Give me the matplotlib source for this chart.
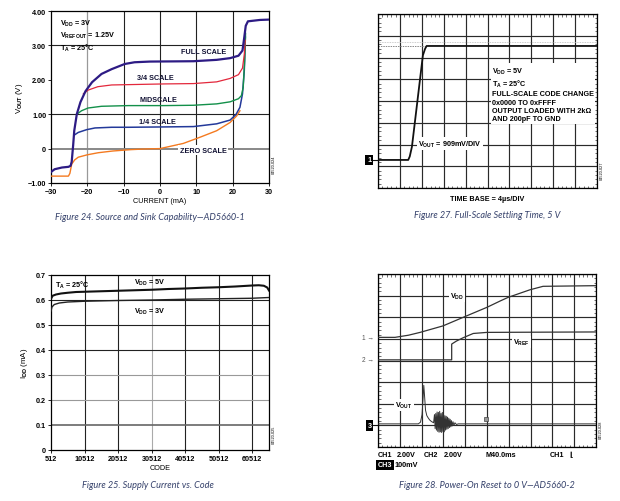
import numpy as np
import matplotlib
matplotlib.use("Agg")
import matplotlib.pyplot as plt

plt.rcParams['font.family'] = ['Liberation Sans', 'DejaVu Sans']
plt.rcParams['font.weight'] = 'bold'
plt.rcParams['mathtext.fontset'] = 'custom'
plt.rcParams['mathtext.rm'] = 'Liberation Sans:bold'
plt.rcParams['mathtext.it'] = 'Liberation Sans:bold'
plt.rcParams['mathtext.bf'] = 'Liberation Sans:bold'

# ---------------- Figure 24 data: source and sink capability ----------------
cur_fs = [-30, -29, -27, -25.2, -24.6, -24.3, -23.9, -23.6, -22.9, -21.9, -20.5, -18.7, -16.1,
          -13.3, -9.7, -7.0, -2.75, 9.2, 15.6, 19.3, 21.6, 22.7, 23.2, 23.6, 24.2, 27.5, 30]
v_fs = [-0.68, -0.60, -0.55, -0.53, -0.50, -0.38, 0.10, 0.52, 1.00, 1.35, 1.67, 1.93, 2.17,
        2.31, 2.46, 2.51, 2.53, 2.54, 2.58, 2.63, 2.70, 2.85, 3.24, 3.57, 3.70, 3.74, 3.75]

cur_34 = [-21.1, -19.8, -17.1, -13.3, 1.1, 9.2, 15.6, 19.3, 21.6, 22.7, 23.2, 23.45]
v_34 = [1.59, 1.70, 1.80, 1.85, 1.88, 1.89, 1.94, 2.04, 2.15, 2.34, 2.74, 3.15]

cur_mid = [-22.9, -21.6, -19.8, -16.1, -8.7, 1.1, 9.2, 15.6, 19.3, 21.6, 22.4, 22.9, 23.3, 23.55]
v_mid = [1.00, 1.10, 1.18, 1.23, 1.25, 1.25, 1.26, 1.30, 1.36, 1.45, 1.54, 1.78, 2.56, 3.35]

cur_q = [-23.5, -22.5, -20.2, -17.9, -13.3, -8.7, 1.1, 9.2, 15.6, 19.3, 20.9, 22.0, 22.7, 23.2, 23.5]
v_q = [0.40, 0.47, 0.55, 0.60, 0.62, 0.62, 0.63, 0.64, 0.72, 0.83, 0.99, 1.20, 1.59, 2.27, 3.24]

cur_zero = [-30, -25.2, -24.8, -24.3, -23.5, -22.5, -20.0, -17.0, -13.0, -8.0, -4.0, 0.0,
            6.4, 11.0, 15.6, 19.3, 21.1, 22.0]
v_zero = [-0.80, -0.80, -0.72, -0.45, -0.33, -0.25, -0.18, -0.12, -0.07, -0.03, -0.01, 0.0,
          0.15, 0.33, 0.52, 0.76, 0.95, 1.10]

f24_xticks = [-30, -20, -10, 0, 10, 20, 30]
f24_yticks = [-1, 0, 1, 2, 3, 4]
f24_ylabels = ['\u22121.00', '0', '1.00', '2.00', '3.00', '4.00']
f24_xlabels = ['\u221230', '\u221220', '\u221210', '0', '10', '20', '30']

# ---------------- Figure 25 data: supply current vs code ----------------
code_5v = [512, 1000, 2000, 3500, 5512, 8000, 10512, 15512, 20512, 25512, 30512, 35512,
           40512, 45512, 50512, 55512, 60512, 62500, 64000, 65000, 65535]
idd_5v = [0.605, 0.617, 0.622, 0.626, 0.629, 0.632, 0.633, 0.635, 0.637, 0.639, 0.641, 0.644,
          0.646, 0.649, 0.651, 0.654, 0.658, 0.659, 0.657, 0.650, 0.638]
code_3v = [512, 800, 1500, 3000, 5512, 10512, 20512, 30512, 40512, 50512, 60512, 65535]
idd_3v = [0.556, 0.572, 0.582, 0.588, 0.592, 0.595, 0.598, 0.600, 0.603, 0.605, 0.607, 0.610]
f25_xticks = [512, 10512, 20512, 30512, 40512, 50512, 60512]
f25_yticks = [0, 0.1, 0.2, 0.3, 0.4, 0.5, 0.6, 0.7]
f25_ylabels = ['0', '0.1', '0.2', '0.3', '0.4', '0.5', '0.6', '0.7']

# ---------------- Figure 27 data: settling (divisions) ----------------
step_t = [0, 1.38, 1.45, 1.55, 2.05, 2.15, 2.22, 10]
step_v = [1.29, 1.29, 1.45, 1.9, 6.1, 6.4, 6.53, 6.53]

# ---------------- Figure 28 data: power-on reset (divisions) ----------------
vdd_t = [0, 0.78, 1.4, 1.93, 2.98, 4.08, 5.0, 5.6, 5.97, 6.97, 7.57, 10]
vdd_v = [5.07, 5.07, 5.17, 5.3, 5.6, 6.07, 6.46, 6.75, 6.92, 7.27, 7.43, 7.46]
vref_t = [0, 3.38, 3.38, 3.6, 3.9, 4.37, 5.0, 10]
vref_v = [4.03, 4.03, 4.76, 4.9, 5.05, 5.25, 5.3, 5.32]
vout_t = [0, 1.85, 1.95, 2.02, 2.07, 2.10, 2.14, 2.18, 2.24, 2.30, 2.37, 2.45, 2.55,
          2.59, 2.62, 2.65, 2.68, 2.71, 2.74, 2.77, 2.80, 2.83, 2.86, 2.89, 2.92, 2.95, 2.98,
          3.01, 3.04, 3.07, 3.10, 3.13, 3.16, 3.19, 3.22, 3.25, 3.28, 3.31, 3.34, 3.37, 3.40,
          3.44, 3.48, 3.53, 3.60, 3.68, 10]
vout_v = [1.07, 1.07, 1.15, 1.5, 2.3, 2.85, 2.3, 1.7, 1.45, 1.35, 1.25, 1.18, 1.12,
          1.5, 0.85, 1.55, 0.78, 1.62, 0.72, 1.6, 0.68, 1.65, 0.7, 1.55, 0.67, 1.6, 0.72,
          1.5, 0.7, 1.45, 0.78, 1.42, 0.82, 1.38, 0.85, 1.33, 0.9, 1.28, 0.93, 1.22, 0.97,
          1.17, 1.0, 1.12, 1.04, 1.07, 1.07]

fig = plt.figure(figsize=(6.2, 5.02), dpi=100)
W, H = 620.0, 502.0


def add_ax(l, t, r, b):
    return fig.add_axes([l / W, 1 - b / H, (r - l) / W, (b - t) / H])


FS = 5.2
CAP = dict(fontsize=6.6, style='italic', weight='normal', color='#34406a',
           family=['Lato', 'DejaVu Sans'], ha='center', va='center')
BOX = dict(facecolor='black', edgecolor='none', boxstyle='square,pad=0.25')

# ================= Figure 24 =================
ax1 = add_ax(51, 12, 269, 184)
ax1.set_xlim(-30, 30)
ax1.set_ylim(-1, 4)
for x in [-10, 0, 10, 20]:
    ax1.axvline(x, color='#222222', lw=0.8, zorder=1)
ax1.axvline(-20, color='#999999', lw=0.9, zorder=1)
for y in [3, 1]:
    ax1.axhline(y, color='#222222', lw=0.8, zorder=1)
ax1.axhline(0, color='#888888', lw=1.4, zorder=1)
ax1.plot(cur_zero, v_zero, color='#f47a20', lw=1.0, zorder=3)
ax1.plot(cur_q, v_q, color='#23399a', lw=1.1, zorder=3)
ax1.plot(cur_mid, v_mid, color='#13904a', lw=1.0, zorder=3)
ax1.plot(cur_34, v_34, color='#e3283c', lw=0.9, zorder=3)
ax1.plot(cur_fs, v_fs, color='#2d1b84', lw=1.6, zorder=4)
ax1.set_xticks(f24_xticks, f24_xlabels)
ax1.set_yticks(f24_yticks, f24_ylabels)
ax1.tick_params(labelsize=FS, length=2, width=0.6, pad=1.5)
for s in ax1.spines.values():
    s.set_linewidth(0.9)
ax1.set_xlabel('CURRENT (mA)', fontsize=FS, labelpad=1.5)
ax1.set_ylabel('V$_{\\rm OUT}$ (V)', fontsize=FS + 0.5, labelpad=2)
ax1.text(11.9, 2.81, 'FULL SCALE', fontsize=FS, ha='center', va='center', color='#111133', zorder=5)
ax1.text(-1.2, 2.08, '3/4 SCALE', fontsize=FS, ha='center', va='center', color='#111133', zorder=5)
ax1.text(-0.3, 1.43, 'MIDSCALE', fontsize=FS, ha='center', va='center', color='#111133', zorder=5)
ax1.text(-0.7, 0.78, '1/4 SCALE', fontsize=FS, ha='center', va='center', color='#111133', zorder=5)
ax1.text(11.9, -0.05, 'ZERO SCALE', fontsize=FS, ha='center', va='center', color='#111133', zorder=5,
         bbox=dict(facecolor='white', edgecolor='none', pad=1.2))
ax1.text(-27.4, 3.8, 'V$_{\\rm DD}$ = 3V\nV$_{\\rm REFOUT}$ = 1.25V\nT$_{\\rm A}$ = 25\u00b0C',
         fontsize=FS, ha='left', va='top', linespacing=1.25, zorder=5)
ax1.text(1.012, 0.06, '04520-024', transform=ax1.transAxes, fontsize=2.8, rotation=90,
         ha='left', va='bottom', weight='normal')
fig.text(150 / W, 1 - 217 / H, 'Figure 24. Source and Sink Capability\u2014AD5660-1', **CAP)

# ================= Figure 25 =================
ax3 = add_ax(51, 276, 269, 451)
ax3.set_xlim(512, 65535)
ax3.set_ylim(0, 0.7)
for x in [10512, 20512, 40512, 50512, 60512]:
    ax3.axvline(x, color='#222222', lw=0.8, zorder=1)
ax3.axvline(30512, color='#aaaaaa', lw=0.8, zorder=1)
for y in [0.4, 0.5, 0.6]:
    ax3.axhline(y, color='#222222', lw=0.8, zorder=1)
for y in [0.2, 0.3]:
    ax3.axhline(y, color='#999999', lw=0.8, zorder=1)
ax3.axhline(0.1, color='#666666', lw=1.2, zorder=1)
ax3.plot(code_5v, idd_5v, color='#111111', lw=1.5, zorder=3)
ax3.plot(code_3v, idd_3v, color='#222222', lw=1.0, zorder=3)
ax3.set_xticks(f25_xticks, [str(c) for c in f25_xticks])
ax3.set_yticks(f25_yticks, f25_ylabels)
ax3.tick_params(labelsize=FS, length=2, width=0.6, pad=1.5)
for s in ax3.spines.values():
    s.set_linewidth(0.9)
ax3.set_xlabel('CODE', fontsize=FS, labelpad=1.5)
ax3.set_ylabel('I$_{\\rm DD}$ (mA)', fontsize=FS + 0.5, labelpad=4)
ax3.text(1600, 0.664, 'T$_{\\rm A}$ = 25\u00b0C', fontsize=FS, ha='left', va='center')
ax3.text(29900, 0.672, 'V$_{\\rm DD}$ = 5V', fontsize=FS, ha='center', va='center')
ax3.text(29900, 0.557, 'V$_{\\rm DD}$ = 3V', fontsize=FS, ha='center', va='center')
ax3.text(1.012, 0.04, '04520-025', transform=ax3.transAxes, fontsize=2.8, rotation=90,
         ha='left', va='bottom', weight='normal')
fig.text(148 / W, 1 - 486 / H, 'Figure 25. Supply Current vs. Code', **CAP)


# ================= Scope helper =================
def scope(ax):
    ax.set_xlim(0, 10)
    ax.set_ylim(0, 8)
    ax.set_xticks(range(11))
    ax.set_yticks(range(9))
    ax.set_xticks(np.arange(0, 10.01, 0.2), minor=True)
    ax.set_yticks(np.arange(0, 8.01, 0.2), minor=True)
    ax.grid(True, which='major', color='#2a2a2a', lw=0.85)
    ax.set_axisbelow(True)
    ax.tick_params(which='major', length=0, labelleft=False, labelbottom=False)
    ax.tick_params(which='minor', direction='in', length=1.8, width=0.5,
                   top=True, right=True, color='#333333')
    for s in ax.spines.values():
        s.set_linewidth(0.9)


# ================= Figure 27 =================
ax2 = add_ax(378, 15, 597, 189)
scope(ax2)
ax2.axhline(6.73, color='#bbbbbb', lw=0.6, ls=(0, (1, 1)), zorder=2)
ax2.plot([0, 2.2], [6.53, 6.53], color='#888888', lw=0.7, ls=(0, (1.5, 1)), zorder=2)
ax2.plot(step_t, step_v, color='#111111', lw=1.3, zorder=3)
ax2.text(1.83, 2.05, 'V$_{\\rm OUT}$ = 909mV/DIV', fontsize=FS, ha='left', va='center', zorder=5,
         bbox=dict(facecolor='white', edgecolor='none', pad=1.0))
ax2.text(5.2, 5.62, 'V$_{\\rm DD}$ = 5V\nT$_{\\rm A}$ = 25\u00b0C\nFULL-SCALE CODE CHANGE\n'
         '0x0000 TO 0xFFFF\nOUTPUT LOADED WITH 2k\u03a9\nAND 200pF TO GND',
         fontsize=FS, ha='left', va='top', linespacing=1.25, zorder=5,
         bbox=dict(facecolor='white', edgecolor='none', pad=1.0))
yt2 = ax2.get_yaxis_transform()
ax2.plot([-0.025, 0.0], [1.29, 1.29], transform=yt2, color='#111111', lw=0.8, clip_on=False)
ax2.text(-0.03, 1.29, '1', transform=yt2, fontsize=FS, color='white',
         ha='right', va='center', bbox=BOX)
ax2.text(0.5, -0.04, 'TIME BASE = 4\u00b5s/DIV', transform=ax2.transAxes, fontsize=FS,
         ha='center', va='top')
ax2.text(1.012, 0.05, '04520-027', transform=ax2.transAxes, fontsize=2.8, rotation=90,
         ha='left', va='bottom', weight='normal')
fig.text(487 / W, 1 - 216 / H, 'Figure 27. Full-Scale Settling Time, 5 V', **CAP)

# ================= Figure 28 =================
ax4 = add_ax(378, 275, 596, 448)
scope(ax4)
ax4.plot(vdd_t, vdd_v, color='#333333', lw=0.9, zorder=3)
ax4.plot(vref_t, vref_v, color='#333333', lw=0.9, zorder=3)
ax4.plot(vout_t, vout_v, color='#333333', lw=0.7, zorder=3)
ax4.plot([4.96], [1.3], marker='s', ms=3.5, mfc='#999999', mec='#444444', mew=0.5, zorder=4)
ax4.text(3.62, 6.98, 'V$_{\\rm DD}$', fontsize=FS, ha='center', va='center', zorder=5,
         bbox=dict(facecolor='white', edgecolor='none', pad=0.8))
ax4.text(6.6, 4.85, 'V$_{\\rm REF}$', fontsize=FS, ha='center', va='center', zorder=5,
         bbox=dict(facecolor='white', edgecolor='none', pad=0.8))
ax4.text(0.78, 1.94, 'V$_{\\rm OUT}$', fontsize=FS, ha='left', va='center', zorder=5,
         bbox=dict(facecolor='white', edgecolor='none', pad=0.8))
yt = ax4.get_yaxis_transform()
ax4.text(-0.02, 5.07, '1 \u2192', transform=yt, fontsize=FS - 0.5, color='#555555',
         ha='right', va='center', weight='normal')
ax4.text(-0.02, 4.03, '2 \u2192', transform=yt, fontsize=FS - 0.5, color='#555555',
         ha='right', va='center', weight='normal')
ax4.plot([-0.025, 0.0], [1.0, 1.0], transform=yt, color='#111111', lw=0.8, clip_on=False)
ax4.text(-0.03, 1.0, '3', transform=yt, fontsize=FS, color='white',
         ha='right', va='center', bbox=BOX)
for xf, s in [(0.0, 'CH1'), (0.087, '2.00V'), (0.21, 'CH2'), (0.30, '2.00V'),
              (0.495, 'M40.0ms'), (0.79, 'CH1'), (0.88, '\u230a')]:
    ax4.text(xf, -0.046, s, transform=ax4.transAxes, fontsize=FS, ha='left', va='center')
ax4.text(0.0, -0.104, 'CH3', transform=ax4.transAxes, fontsize=FS, ha='left', va='center',
         color='white', bbox=BOX)
ax4.text(0.075, -0.104, '100mV', transform=ax4.transAxes, fontsize=FS, ha='left', va='center')
ax4.text(1.012, 0.05, '04520-028', transform=ax4.transAxes, fontsize=2.8, rotation=90,
         ha='left', va='bottom', weight='normal')
fig.text(487 / W, 1 - 486 / H, 'Figure 28. Power-On Reset to 0 V\u2014AD5660-2', **CAP)

fig.savefig('out.png', dpi=100)
